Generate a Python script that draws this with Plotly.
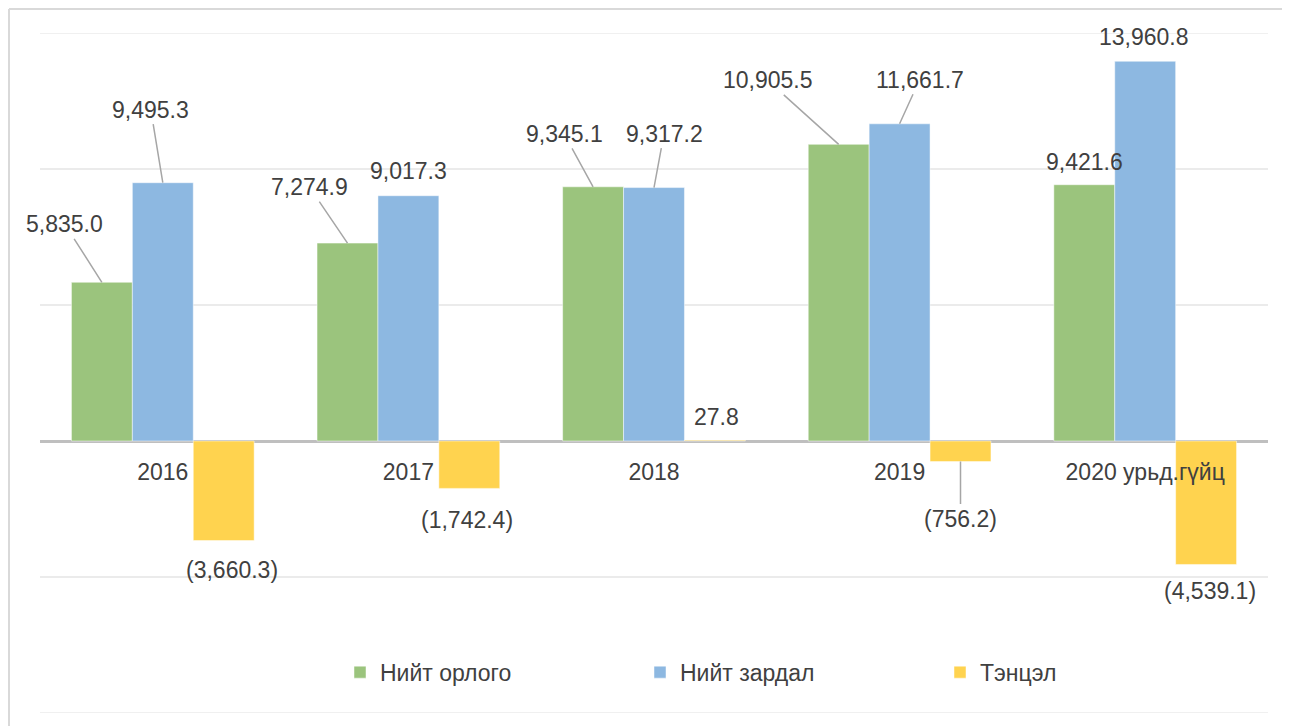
import plotly.graph_objects as go

# ─────────────────────────────────────────────────────────────────────────────
# Data
# ─────────────────────────────────────────────────────────────────────────────
years = ["2016", "2017", "2018", "2019", "2020 урьд.гүйц"]
income = [5835.0, 7274.9, 9345.1, 10905.5, 9421.6]
expense = [9495.3, 9017.3, 9317.2, 11661.7, 13960.8]
balance = [-3660.3, -1742.4, 27.8, -756.2, -4539.1]

series_names = ["Нийт орлого", "Нийт зардал", "Тэнцэл"]
colors = ["#9BC47D", "#8DB8E1", "#FFD34F"]

# label offsets in pixels (ax, ay, draw leader line?)
label_offsets = [
    [(-37, -58, True), (-38, -56, True), (-29, -53, True), (-71, -64, True), (0, -23, False)],
    [(-12, -73, True), (0, -25, False), (10, -54, True), (20, -44, True), (-1, -24, False)],
    [(8, 29, False), (-2, 32, False), (2, -23, False), (0, 57, True), (4, 27, False)],
]

TEXT = "#404040"
BARGAP = 0.256
W, H = 1282, 718            # page adds an 8px body margin
ML, MR, MT, MB = 32, 22, 25, 13
PW, PH = W - ML - MR, H - MT - MB


def fmt(v):
    s = f"{abs(v):,.1f}"
    return f"({s})" if v < 0 else s


fig = go.Figure()
for name, vals, col in zip(series_names, [income, expense, balance], colors):
    fig.add_trace(go.Bar(
        x=years, y=vals, name=name,
        marker=dict(color=col, line=dict(color="rgba(255,255,255,0.6)", width=0.8)),
        hoverinfo="x+y",
    ))

# data labels with leader lines
bw = (1 - BARGAP) / 3
annotations = []
for si, vals in enumerate([income, expense, balance]):
    off = (si - 1) * bw
    for ci, v in enumerate(vals):
        ax, ay, line = label_offsets[si][ci]
        annotations.append(dict(
            x=ci + off, y=v, xref="x", yref="y",
            text=fmt(v), showarrow=True, ax=ax, ay=ay,
            arrowhead=0, arrowwidth=1.5, standoff=0,
            arrowcolor="#A6A6A6" if line else "rgba(0,0,0,0)",
            font=dict(size=23, color=TEXT),
        ))

# chart frame (left and top border) + outer gridlines
fx = (1 - ML) / PW
fy = 1 + (MT - 1) / PH
shapes = [
    dict(type="line", xref="paper", yref="paper", x0=fx, x1=fx, y0=-0.05, y1=fy,
         line=dict(color="#D9D9D9", width=2)),
    dict(type="line", xref="paper", yref="paper", x0=fx, x1=1.05, y0=fy, y1=fy,
         line=dict(color="#D9D9D9", width=2)),
]
for gy in (15000, -10000):
    shapes.append(dict(type="line", xref="paper", yref="y", x0=0, x1=1, y0=gy, y1=gy,
                       line=dict(color="#EBEBEB", width=1.5), layer="below"))

fig.update_layout(
    width=W, height=H,
    margin=dict(l=ML, r=MR, t=MT, b=MB),
    paper_bgcolor="white", plot_bgcolor="white",
    font=dict(family="Liberation Sans, Arial, sans-serif", color=TEXT),
    barmode="group", bargap=BARGAP, bargroupgap=0,
    showlegend=True,
    legend=dict(orientation="h", x=(340 - 40) / PW, xanchor="left", y=0.06, yanchor="middle",
                font=dict(size=23, color=TEXT), entrywidth=255, entrywidthmode="pixels",
                bgcolor="rgba(0,0,0,0)"),
    annotations=annotations,
    shapes=shapes,
)
fig.update_yaxes(range=[-10000, 15000], dtick=5000, showticklabels=False,
                 showgrid=True, gridcolor="#EBEBEB", gridwidth=1.5,
                 zeroline=True, zerolinecolor="#BFBFBF", zerolinewidth=2.5)
fig.update_xaxes(type="category", range=[-0.5, 4.5], anchor="free", position=0.4,
                 showline=False, ticks="", tickfont=dict(size=23, color=TEXT),
                 ticklabelstandoff=15)

fig.write_html("out.html")
